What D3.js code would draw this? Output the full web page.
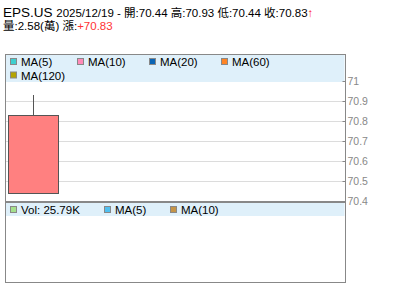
<!DOCTYPE html>
<html>
<head>
<meta charset="utf-8">
<script src="https://cdn.jsdelivr.net/npm/d3@7"></script>
<style>
  body { margin: 0; background: #fff; }
  text { font-family: "Liberation Sans", Arial, "Noto Sans CJK TC", sans-serif; }
</style>
</head>
<body>
<svg id="chart" width="400" height="301"></svg>
<script>
// data
const symbol = "EPS.US"
const dates = ["2025/12/19"]
const opens = [70.44]
const highs = [70.93]
const lows = [70.44]
const closes = [70.83]
const volumeWan = [2.58]
const changes = ["+70.83"]
const yTicks = [70.4, 70.5, 70.6, 70.7, 70.8, 70.9, 71]
const priceLegend = [["MA(5)", "#3ecfcf"], ["MA(10)", "#ff8ab8"], ["MA(20)", "#0a64b4"], ["MA(60)", "#ff8424"], ["MA(120)", "#b4a400"]]
const volLegend = [["Vol: 25.79K", "#a4e08c"], ["MA(5)", "#50c0f0"], ["MA(10)", "#c49448"]]

const svg = d3.select("#chart")
const frame = {l: 5.5, r: 345.5, t: 54.5, mid: 202, b: 282.5}
const grey = "#888"

// header
const last = dates.length - 1
const h1 = svg.append("text").attr("x", 3).attr("y", 17).attr("font-size", 11.5).attr("fill", "#000")
h1.append("tspan").attr("font-size", 13.5).text(symbol + " ")
h1.append("tspan").text(`${dates[last]} - 開:${opens[last].toFixed(2)} 高:${highs[last].toFixed(2)} 低:${lows[last].toFixed(2)} 收:${closes[last].toFixed(2)}`)
h1.append("tspan").attr("fill", "#f22").attr("font-weight", "bold").text("↑")

const h2 = svg.append("text").attr("x", 3).attr("y", 30).attr("font-size", 11.5).attr("fill", "#000")
h2.append("tspan").text(`量:${volumeWan[last]}(萬) 漲:`)
h2.append("tspan").attr("fill", "#f33").text(changes[last])

// scales
const y = d3.scaleLinear().domain([70.4, 71]).range([201, 81])
const x = d3.scaleBand().domain(dates).range([8, 58]).padding(0)

// gridlines
svg.append("g").selectAll("line")
  .data(yTicks.slice(0, -1))
  .join("line")
  .attr("x1", frame.l).attr("x2", frame.r)
  .attr("y1", d => Math.round(y(d)) + 0.5).attr("y2", d => Math.round(y(d)) + 0.5)
  .attr("stroke", "#dcdcdc")

// legend backgrounds
svg.append("rect").attr("x", frame.l).attr("y", frame.t).attr("width", frame.r - frame.l - 1).attr("height", 27.5).attr("fill", "#dff0fa")
svg.append("rect").attr("x", frame.l).attr("y", frame.mid + 1).attr("width", frame.r - frame.l - 1).attr("height", 13).attr("fill", "#dff0fa")

// candle
const candles = svg.append("g")
candles.selectAll("line")
  .data(dates)
  .join("line")
  .attr("x1", d => Math.round(x(d) + x.bandwidth() / 2) + 0.5)
  .attr("x2", d => Math.round(x(d) + x.bandwidth() / 2) + 0.5)
  .attr("y1", (d, i) => y(highs[i]))
  .attr("y2", (d, i) => y(lows[i]))
  .attr("stroke", "#555")
candles.selectAll("rect")
  .data(dates)
  .join("rect")
  .attr("x", d => x(d) + 0.5)
  .attr("width", x.bandwidth())
  .attr("y", (d, i) => Math.round(y(Math.max(opens[i], closes[i]))) + 0.5)
  .attr("height", (d, i) => Math.abs(y(opens[i]) - y(closes[i])))
  .attr("fill", (d, i) => closes[i] >= opens[i] ? "#ff8080" : "#33aa33")
  .attr("stroke", "#555")

// right axis
const axis = svg.append("g")
  .attr("transform", `translate(${frame.r},0)`)
  .call(d3.axisRight(y).tickValues(yTicks).tickSize(3).tickFormat(d3.format("")))
axis.select(".domain").remove()
axis.selectAll("line").attr("stroke", grey).attr("x1", -3).attr("x2", 0)
axis.selectAll("text").attr("fill", grey).attr("font-size", 10.5)
  .attr("font-family", "Liberation Sans, Arial, sans-serif").attr("x", 2)

// frames
svg.append("rect").attr("x", frame.l).attr("y", frame.t).attr("width", frame.r - frame.l).attr("height", frame.b - frame.t)
  .attr("fill", "none").attr("stroke", grey)
svg.append("line").attr("x1", frame.l).attr("x2", frame.r).attr("y1", frame.mid).attr("y2", frame.mid)
  .attr("stroke", grey).attr("stroke-width", 2)

// legends
function legend(items, positions, yTop) {
  const g = svg.append("g")
  items.forEach((it, i) => {
    const [px, row] = positions[i]
    const yy = yTop + row * 13.5
    g.append("rect").attr("x", px + 0.5).attr("y", yy + 0.5).attr("width", 6).attr("height", 6)
      .attr("fill", it[1]).attr("stroke", grey)
    g.append("text").attr("x", px + 11).attr("y", yy + 8).attr("font-size", 11.5).attr("fill", "#000").text(it[0])
  })
}
legend(priceLegend, [[10, 0], [77, 0], [149, 0], [221, 0], [10, 1]], 58)
legend(volLegend, [[10, 0], [104, 0], [170, 0]], 206)
</script>
</body>
</html>
